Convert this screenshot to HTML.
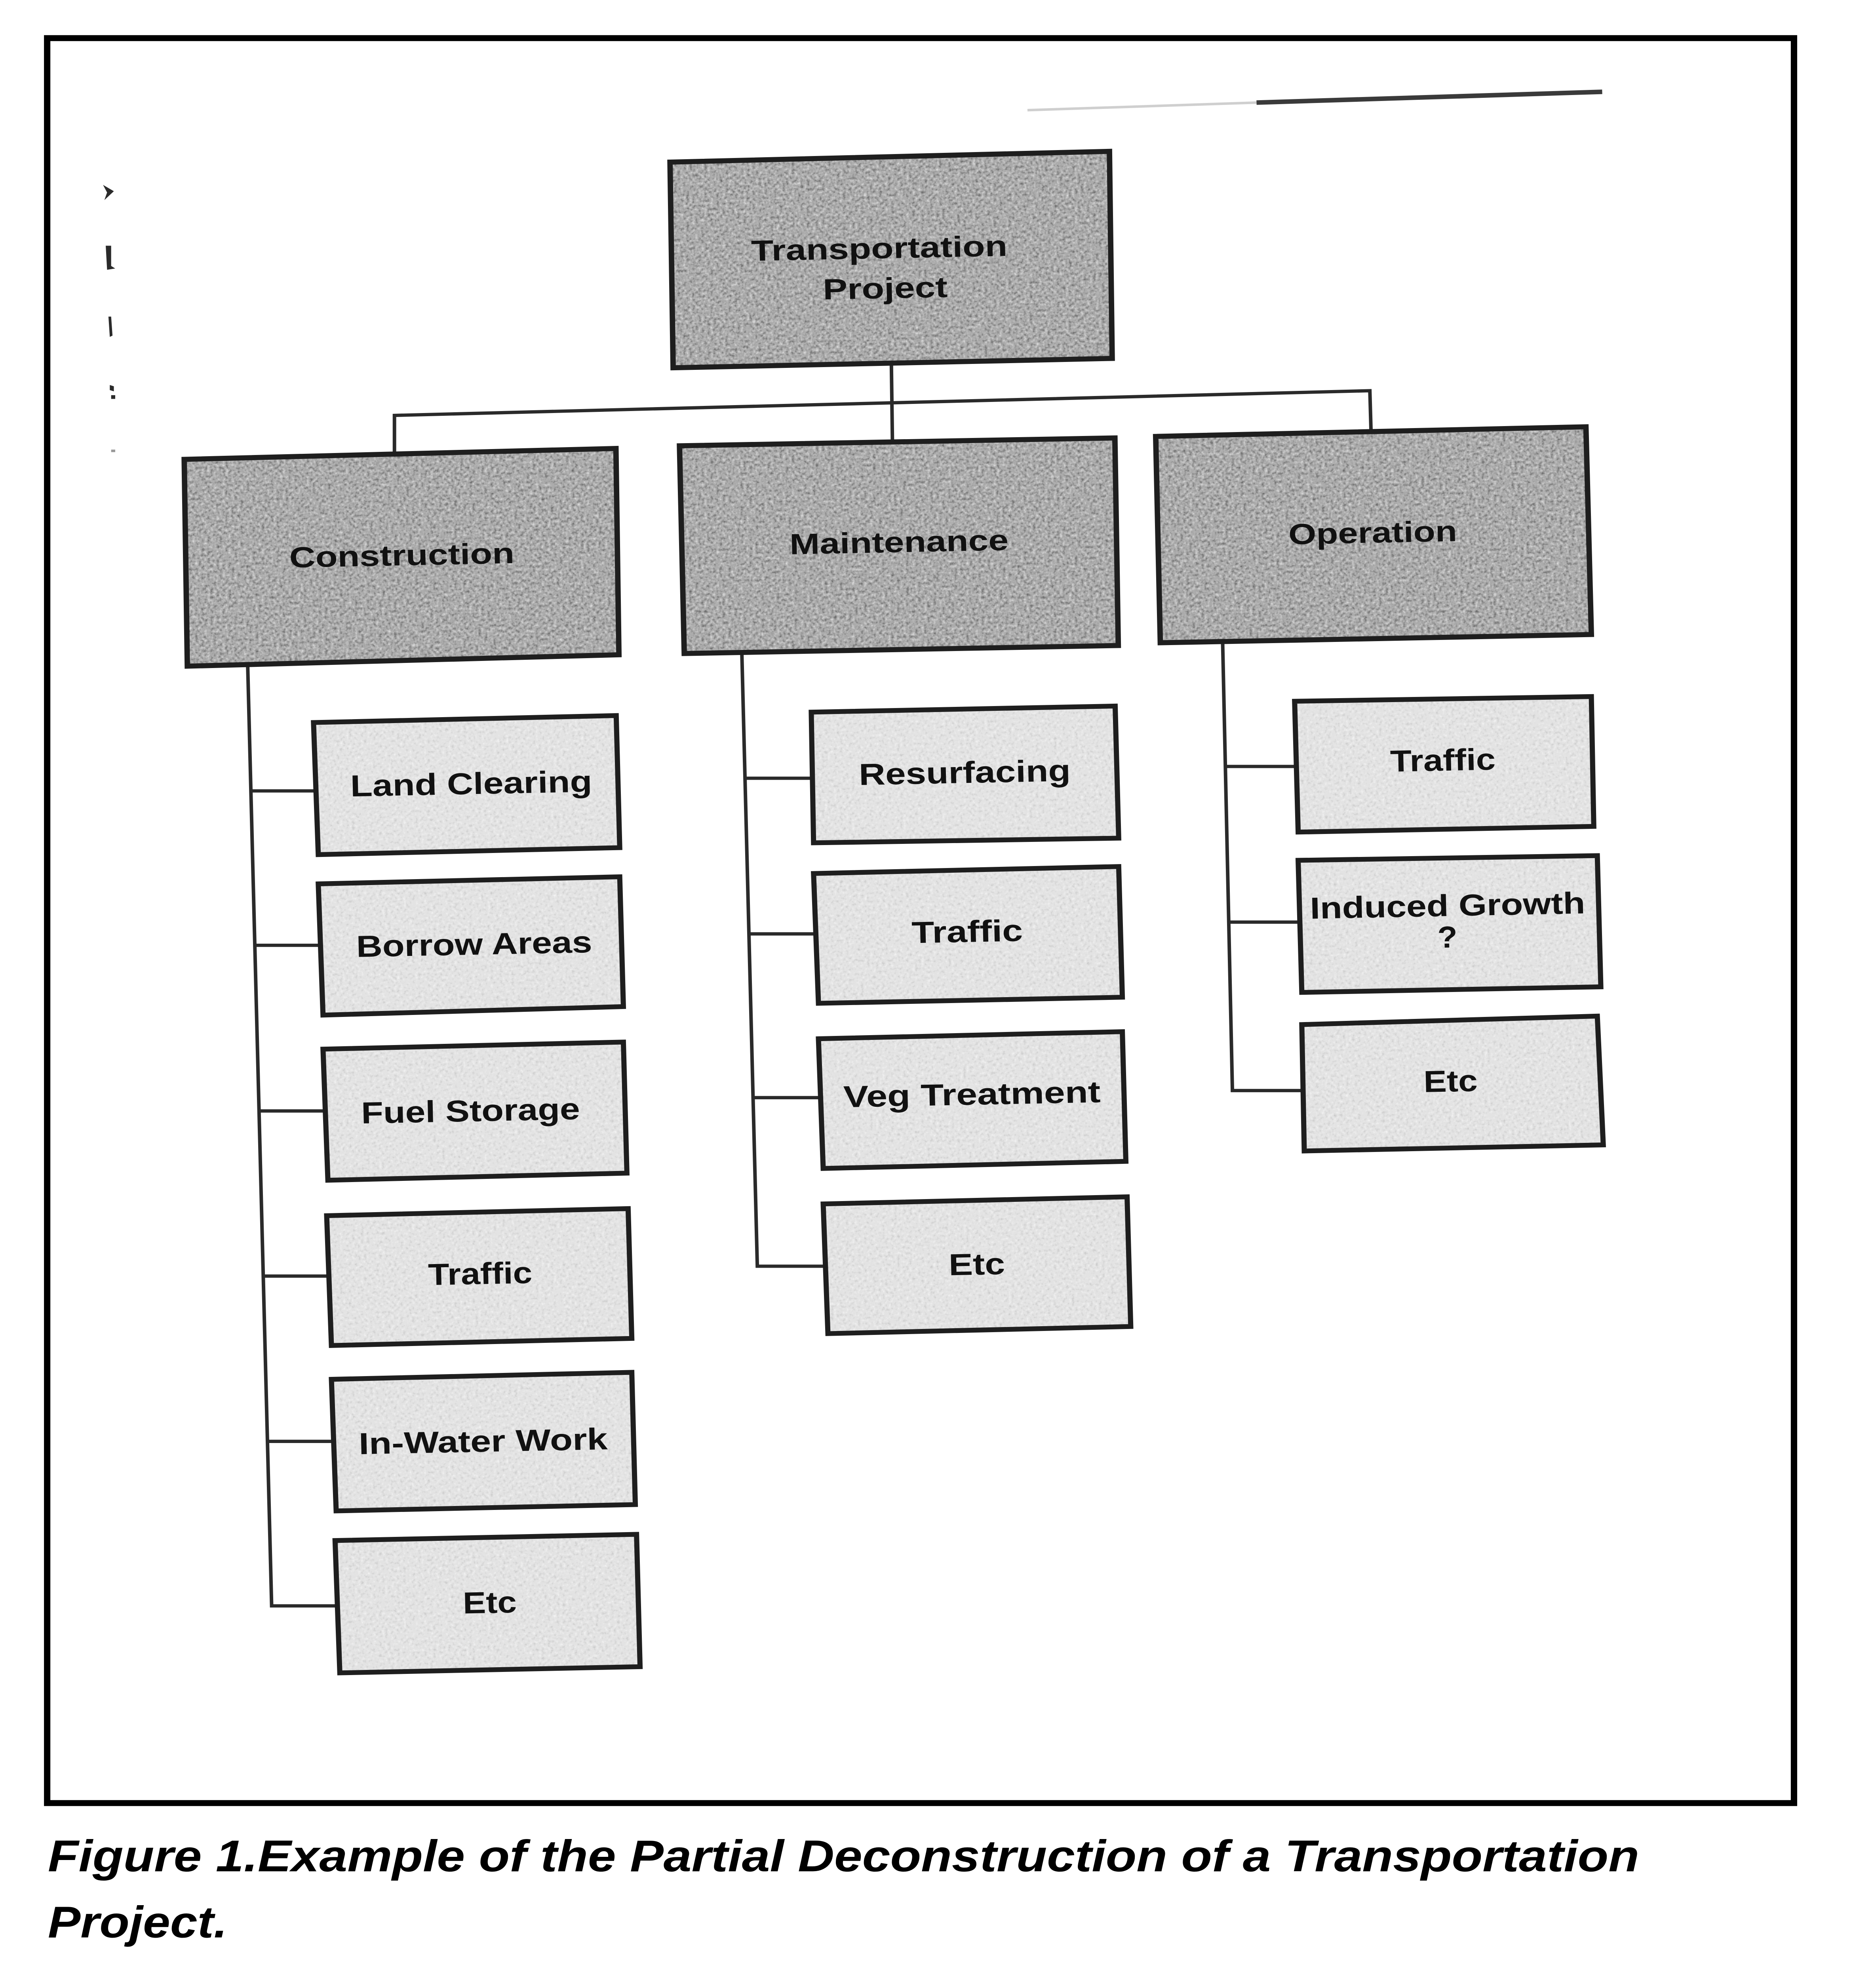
<!DOCTYPE html>
<html>
<head>
<meta charset="utf-8">
<style>
html,body{margin:0;padding:0;background:#fff;width:100%;height:100%;overflow:hidden;}
svg{position:absolute;left:0;top:0;display:block;width:100vw;height:100vh;}
.p{font-family:"Liberation Sans",Arial,sans-serif;font-weight:bold;font-size:23px;fill:#111;}
.c{font-family:"Liberation Sans",Arial,sans-serif;font-weight:bold;font-size:24px;fill:#111;}
.cap{font-family:"Liberation Sans",Arial,sans-serif;font-weight:bold;font-style:italic;font-size:35px;fill:#000;}
</style>
</head>
<body>
<svg xmlns="http://www.w3.org/2000/svg" xmlns:xlink="http://www.w3.org/1999/xlink" viewBox="0 0 1384 1563.4" preserveAspectRatio="none">
<defs>
<filter id="txd" x="0" y="0" width="1" height="1" color-interpolation-filters="sRGB">
<feTurbulence type="fractalNoise" baseFrequency="0.45" numOctaves="2" seed="4" result="n"/>
<feColorMatrix in="n" type="matrix" values="0 0 0 0 0.35  0 0 0 0 0.35  0 0 0 0 0.35  -2.2 0 0 0 1.05" result="dk"/>
<feColorMatrix in="n" type="matrix" values="0 0 0 0 0.9  0 0 0 0 0.9  0 0 0 0 0.9  2.2 0 0 0 -1.15" result="lt"/>
<feMerge result="m"><feMergeNode in="SourceGraphic"/><feMergeNode in="dk"/><feMergeNode in="lt"/></feMerge>
<feComposite in="m" in2="SourceGraphic" operator="in"/>
</filter>
<filter id="txl" x="0" y="0" width="1" height="1" color-interpolation-filters="sRGB">
<feTurbulence type="fractalNoise" baseFrequency="0.45" numOctaves="2" seed="9" result="n"/>
<feColorMatrix in="n" type="matrix" values="0 0 0 0 0.72  0 0 0 0 0.72  0 0 0 0 0.72  -1.6 0 0 0 0.72" result="dk"/>
<feColorMatrix in="n" type="matrix" values="0 0 0 0 1  0 0 0 0 1  0 0 0 0 1  1.6 0 0 0 -0.88" result="lt"/>
<feMerge result="m"><feMergeNode in="SourceGraphic"/><feMergeNode in="dk"/><feMergeNode in="lt"/></feMerge>
<feComposite in="m" in2="SourceGraphic" operator="in"/>
</filter>

<polygon id="b0" points="494.3,128 818.5,119.5 820.5,283 496.6,290.4"/>
<polygon id="b1" points="135.9,362.7 454.4,354.1 456.6,517 138.2,526"/>
<polygon id="b2" points="501.3,352 822.5,345.8 825,509.7 504.8,516"/>
<polygon id="b3" points="852.6,344.6 1170,337 1174,501 856,507.5"/>

<polygon id="c1" points="231.3,570.5 454.6,565 457.2,669.3 234.8,674.8"/>
<polygon id="c2" points="234.8,697.9 457.2,692.3 459.9,794.8 238.3,801.5"/>
<polygon id="c3" points="238.3,828.4 459.9,822.8 462.5,926.3 241.9,931.9"/>
<polygon id="c4" points="241,959.9 463.4,954.3 466.1,1056.8 244.5,1062.4"/>
<polygon id="c5" points="244.5,1089.1 466.1,1083.6 468.7,1188 248,1193"/>
<polygon id="c6" points="247.2,1216.4 469.6,1211.5 472.2,1316 250.7,1320.9"/>
<polygon id="m1" points="598.5,562.3 822.7,557.5 825.3,661.8 600.2,665.5"/>
<polygon id="m2" points="600.2,689.7 825.3,684.2 828,787.4 603.8,792.2"/>
<polygon id="m3" points="603.8,820.2 828,814.6 830.6,917 607.3,922.6"/>
<polygon id="m4" points="607.3,950.6 831.5,945 834.2,1047.4 610.8,1053"/>
<polygon id="o1" points="955.1,553.7 1174,550 1175.8,652.5 957.7,657"/>
<polygon id="o2" points="957.7,679.3 1178.4,675.6 1181,779.2 960.4,783.6"/>
<polygon id="o3" points="960.4,809 1178.4,802.3 1182.8,904 962.2,908.8"/>
</defs>

<rect x="0" y="0" width="1384" height="1563.4" fill="#fff"/>

<!-- outer frame -->
<rect x="34.8" y="30.1" width="1288.7" height="1393.6" fill="none" stroke="#000" stroke-width="4.7"/>

<!-- scan artifact line top -->
<path d="M758 87 L927 81" stroke="#cfcfcf" stroke-width="2" fill="none"/>
<path d="M927 81 L1182 72.5" stroke="#3a3a3a" stroke-width="3.6" fill="none"/>

<!-- left margin marks -->
<g fill="#2a2a2a">
<path d="M76 146 L84 151 L77 158 L79 152 Z"/>
<path d="M78 194 L82 194 L82 210 L85 212 L79 213 Z"/>
<path d="M80 250 L82 250 L83 265 L81 266 Z"/>
<path d="M81 304 L84 305 L84 309 L81 308 Z M82 312 L85 312 L85 315 L82 315 Z"/>
<path d="M82 355 L85 355 L85 357 L82 357 Z" fill="#999"/>
</g>

<!-- connectors -->
<g stroke="#2a2a2a" stroke-width="2.6" fill="none" stroke-linejoin="miter">
<path d="M291 360 L291 328 L1010.6 308.5 L1011.5 342"/>
<path d="M657.6 287 L658.4 350"/>
<path d="M182.7 524 L200.4 1268 L249 1268"/>
<path d="M185.1 624.5 L233 624.5"/>
<path d="M188 746.4 L236.5 746.4"/>
<path d="M191.1 877.2 L240 877.2"/>
<path d="M194.2 1007.6 L243 1007.6"/>
<path d="M197.3 1138.1 L246.5 1138.1"/>
<path d="M547.3 516 L558.7 999.8 L609 999.8"/>
<path d="M549.6 614.5 L599.5 614.5"/>
<path d="M552.5 737.4 L602 737.4"/>
<path d="M555.6 866.7 L605.5 866.7"/>
<path d="M902 507 L909.2 861.1 L961 861.1"/>
<path d="M904 605.2 L956.5 605.2"/>
<path d="M906.5 728.1 L959 728.1"/>
</g>

<!-- parent box fills (textured) -->
<g fill="#ababab" stroke="none">
<use xlink:href="#b0" href="#b0" filter="url(#txd)"/>
<use xlink:href="#b1" href="#b1" filter="url(#txd)"/>
<use xlink:href="#b2" href="#b2" filter="url(#txd)"/>
<use xlink:href="#b3" href="#b3" filter="url(#txd)"/>
</g>
<!-- child box fills (textured) -->
<g fill="#e3e3e3" stroke="none">
<use xlink:href="#c1" href="#c1" filter="url(#txl)"/>
<use xlink:href="#c2" href="#c2" filter="url(#txl)"/>
<use xlink:href="#c3" href="#c3" filter="url(#txl)"/>
<use xlink:href="#c4" href="#c4" filter="url(#txl)"/>
<use xlink:href="#c5" href="#c5" filter="url(#txl)"/>
<use xlink:href="#c6" href="#c6" filter="url(#txl)"/>
<use xlink:href="#m1" href="#m1" filter="url(#txl)"/>
<use xlink:href="#m2" href="#m2" filter="url(#txl)"/>
<use xlink:href="#m3" href="#m3" filter="url(#txl)"/>
<use xlink:href="#m4" href="#m4" filter="url(#txl)"/>
<use xlink:href="#o1" href="#o1" filter="url(#txl)"/>
<use xlink:href="#o2" href="#o2" filter="url(#txl)"/>
<use xlink:href="#o3" href="#o3" filter="url(#txl)"/>
</g>

<!-- box borders -->
<g fill="none" stroke="#1e1e1e" stroke-width="4" stroke-linejoin="miter">
<use xlink:href="#b0" href="#b0"/>
<use xlink:href="#b1" href="#b1"/>
<use xlink:href="#b2" href="#b2"/>
<use xlink:href="#b3" href="#b3"/>
</g>
<g fill="none" stroke="#1e1e1e" stroke-width="3.8" stroke-linejoin="miter">
<use xlink:href="#c1" href="#c1"/>
<use xlink:href="#c2" href="#c2"/>
<use xlink:href="#c3" href="#c3"/>
<use xlink:href="#c4" href="#c4"/>
<use xlink:href="#c5" href="#c5"/>
<use xlink:href="#c6" href="#c6"/>
<use xlink:href="#m1" href="#m1"/>
<use xlink:href="#m2" href="#m2"/>
<use xlink:href="#m3" href="#m3"/>
<use xlink:href="#m4" href="#m4"/>
<use xlink:href="#o1" href="#o1"/>
<use xlink:href="#o2" href="#o2"/>
<use xlink:href="#o3" href="#o3"/>
</g>

<!-- parent labels -->
<text class="p" x="648.8" y="204" text-anchor="middle" textLength="189" lengthAdjust="spacingAndGlyphs" transform="rotate(-1.2 648.8 204)">Transportation</text>
<text class="p" x="653.2" y="235.5" text-anchor="middle" textLength="92" lengthAdjust="spacingAndGlyphs" transform="rotate(-1.2 653.2 235.5)">Project</text>
<text class="p" x="296.6" y="446.4" text-anchor="middle" textLength="166" lengthAdjust="spacingAndGlyphs" transform="rotate(-1.2 296.6 446.4)">Construction</text>
<text class="p" x="663.4" y="436" text-anchor="middle" textLength="161.5" lengthAdjust="spacingAndGlyphs" transform="rotate(-1.2 663.4 436)">Maintenance</text>
<text class="p" x="1012.9" y="428.5" text-anchor="middle" textLength="124.4" lengthAdjust="spacingAndGlyphs" transform="rotate(-1.2 1012.9 428.5)">Operation</text>

<!-- child labels -->
<text class="c" x="347.8" y="627" text-anchor="middle" textLength="178.4" lengthAdjust="spacingAndGlyphs" transform="rotate(-1.2 347.8 627)">Land Clearing</text>
<text class="c" x="350" y="753.8" text-anchor="middle" textLength="174" lengthAdjust="spacingAndGlyphs" transform="rotate(-1.2 350 753.8)">Borrow Areas</text>
<text class="c" x="347.3" y="885.4" text-anchor="middle" textLength="161.4" lengthAdjust="spacingAndGlyphs" transform="rotate(-1.2 347.3 885.4)">Fuel Storage</text>
<text class="c" x="354.4" y="1013.9" text-anchor="middle" textLength="76.8" lengthAdjust="spacingAndGlyphs" transform="rotate(-1.2 354.4 1013.9)">Traffic</text>
<text class="c" x="356.6" y="1146.3" text-anchor="middle" textLength="183.6" lengthAdjust="spacingAndGlyphs" transform="rotate(-1.2 356.6 1146.3)">In-Water Work</text>
<text class="c" x="361.5" y="1273.6" text-anchor="middle" textLength="39.7" lengthAdjust="spacingAndGlyphs" transform="rotate(-1.2 361.5 1273.6)">Etc</text>

<text class="c" x="711.9" y="618.2" text-anchor="middle" textLength="156.2" lengthAdjust="spacingAndGlyphs" transform="rotate(-1.2 711.9 618.2)">Resurfacing</text>
<text class="c" x="713.7" y="743.8" text-anchor="middle" textLength="82" lengthAdjust="spacingAndGlyphs" transform="rotate(-1.2 713.7 743.8)">Traffic</text>
<text class="c" x="717.2" y="872.3" text-anchor="middle" textLength="189.7" lengthAdjust="spacingAndGlyphs" transform="rotate(-1.2 717.2 872.3)">Veg Treatment</text>
<text class="c" x="720.8" y="1006.5" text-anchor="middle" textLength="41.5" lengthAdjust="spacingAndGlyphs" transform="rotate(-1.2 720.8 1006.5)">Etc</text>

<text class="c" x="1064.6" y="608.5" text-anchor="middle" textLength="77.7" lengthAdjust="spacingAndGlyphs" transform="rotate(-1.2 1064.6 608.5)">Traffic</text>
<text class="c" x="1068.1" y="723.3" text-anchor="middle" textLength="203" lengthAdjust="spacingAndGlyphs" transform="rotate(-1.2 1068.1 723.3)">Induced Growth</text>
<text class="c" x="1068" y="748.2" text-anchor="middle" transform="rotate(-1.2 1068 748.2)">?</text>
<text class="c" x="1070.3" y="861.9" text-anchor="middle" textLength="39.8" lengthAdjust="spacingAndGlyphs" transform="rotate(-1.2 1070.3 861.9)">Etc</text>

<!-- caption -->
<text class="cap" x="35.3" y="1477.6" textLength="1174" lengthAdjust="spacingAndGlyphs">Figure 1.Example of the Partial Deconstruction of a Transportation</text>
<text class="cap" x="35.3" y="1529.8" textLength="132.4" lengthAdjust="spacingAndGlyphs">Project.</text>
</svg>
</body>
</html>
